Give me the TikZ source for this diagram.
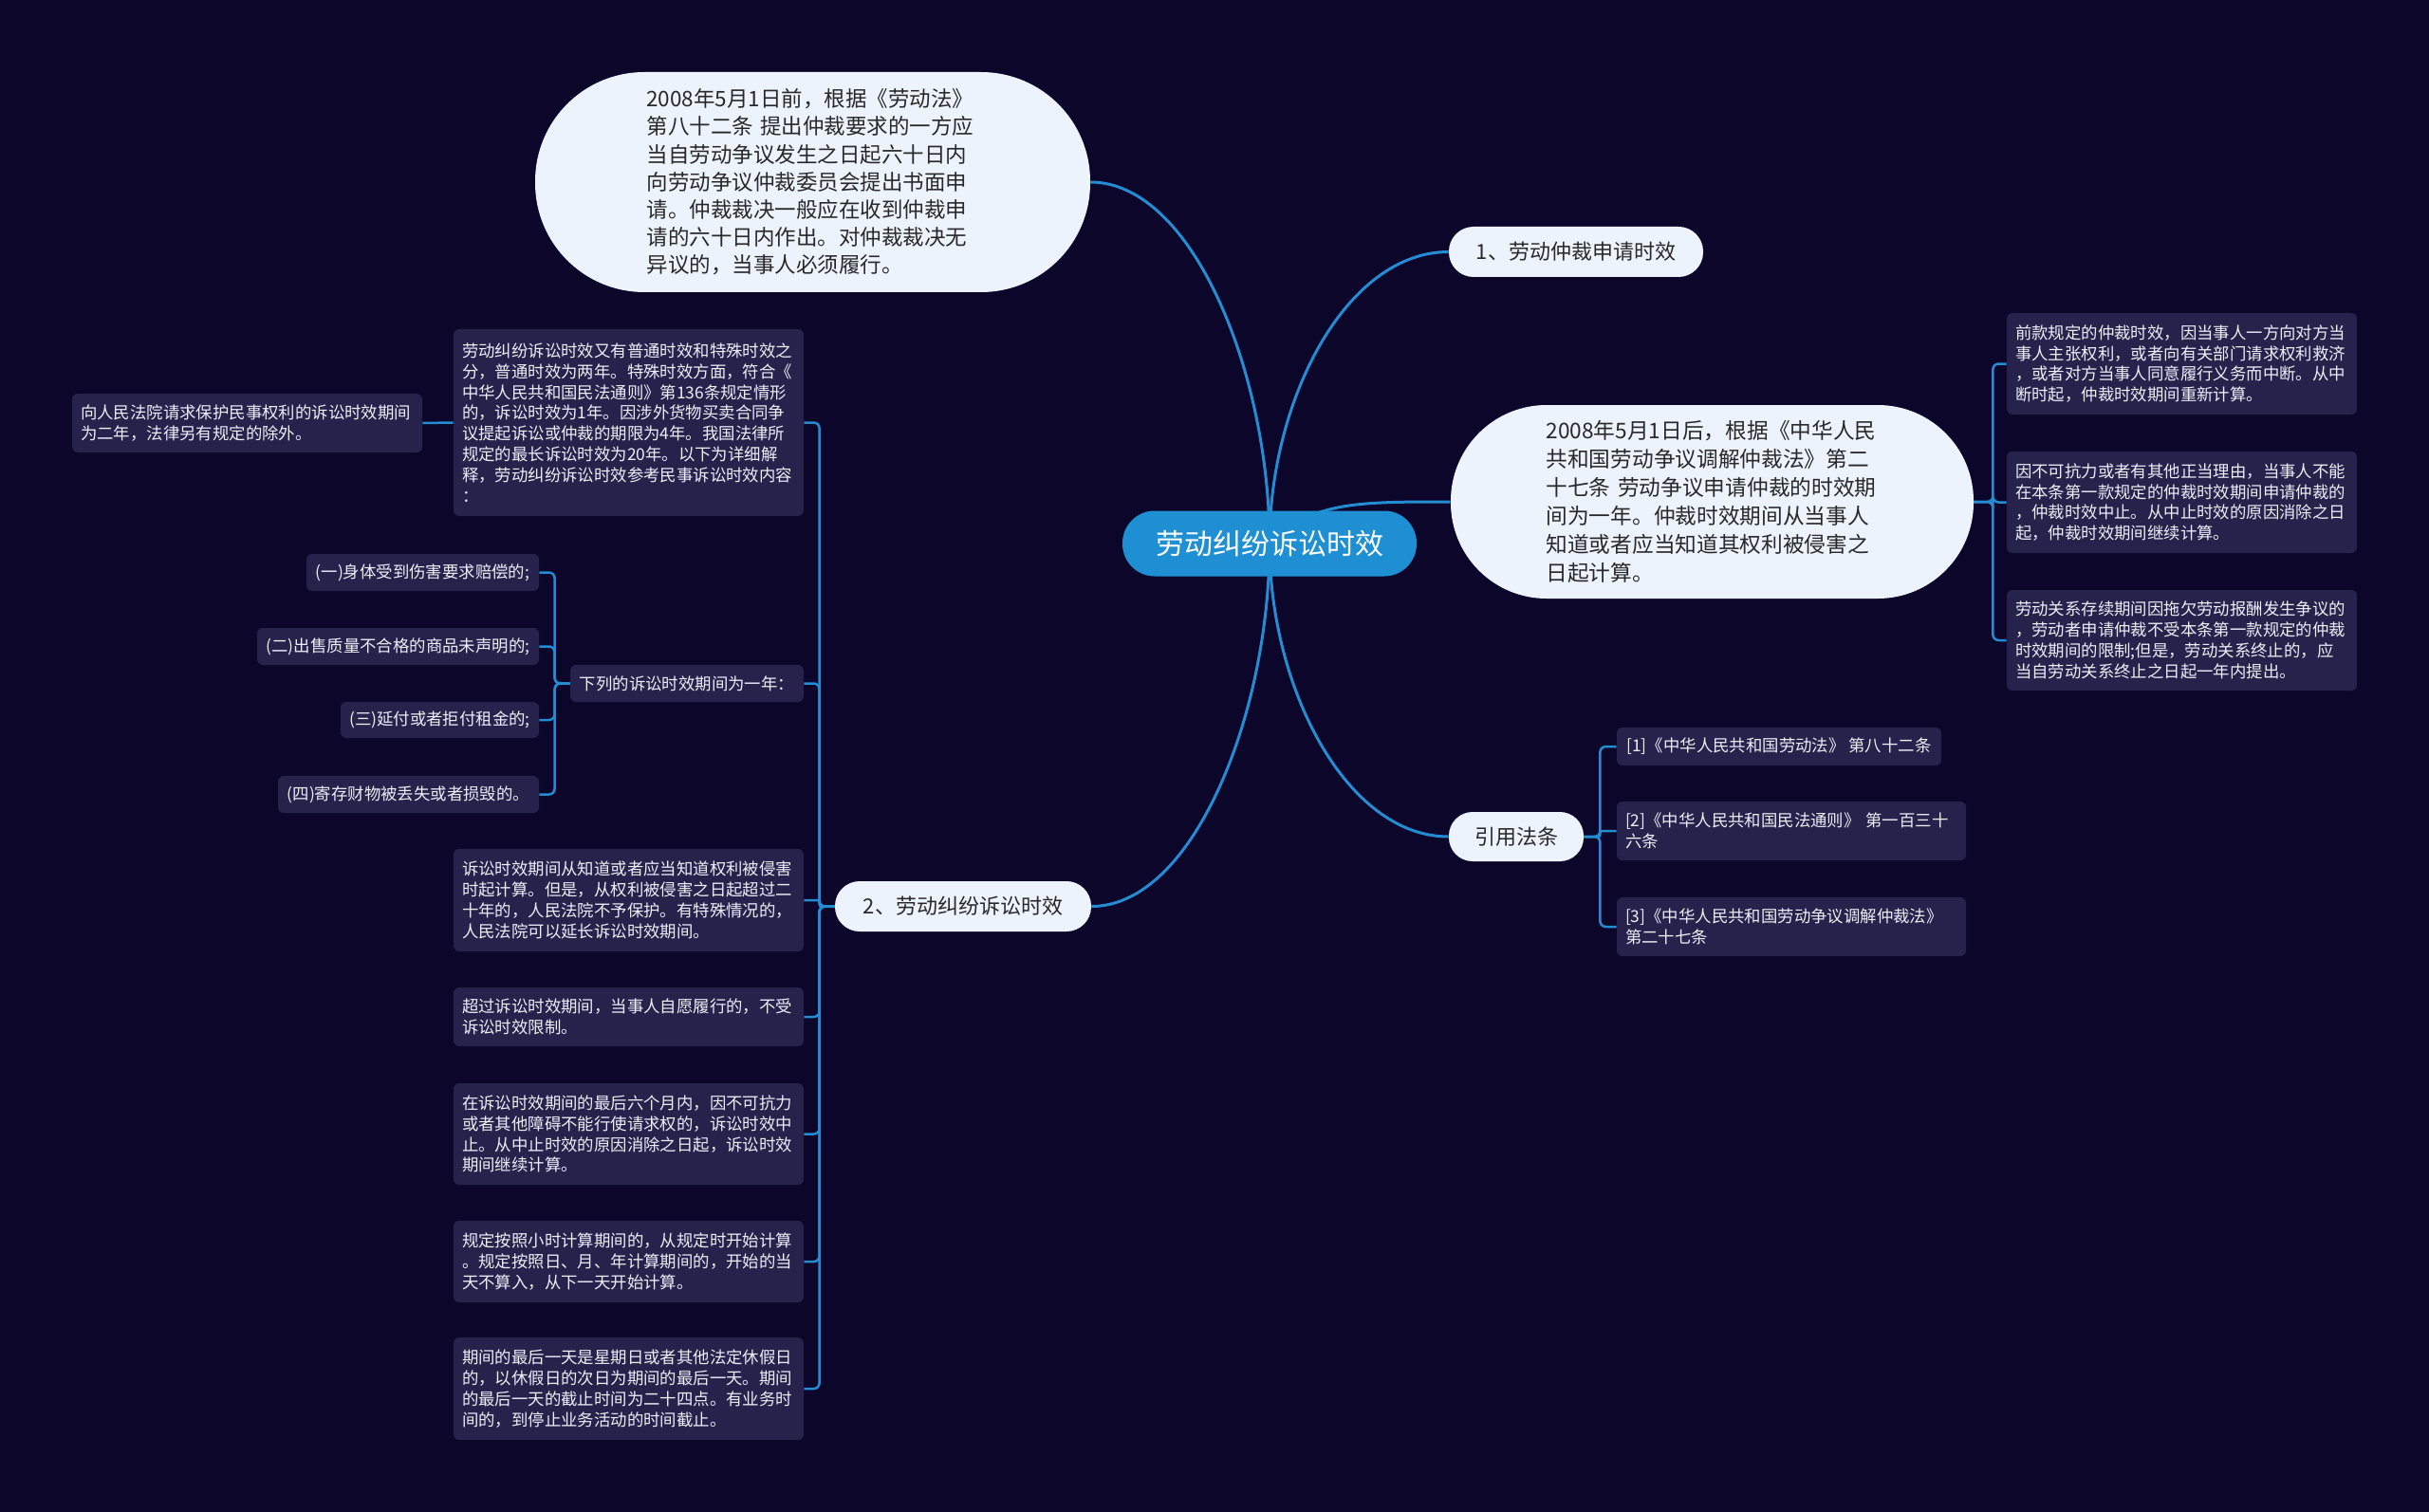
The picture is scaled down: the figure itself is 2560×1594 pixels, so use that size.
\documentclass[tikz,border=0pt]{standalone}
\usepackage{fontspec}
\setmainfont{Noto Sans CJK SC}
\definecolor{bgc}{RGB}{11,6,42}
\definecolor{leafc}{RGB}{38,34,76}
\definecolor{pillc}{RGB}{237,243,252}
\definecolor{rootc}{RGB}{30,143,210}
\definecolor{linec}{RGB}{36,140,210}
\definecolor{darktext}{RGB}{40,40,40}
\definecolor{leaftext}{RGB}{238,238,248}
\pgfdeclarelayer{bg}
\pgfsetlayers{bg,main}
\begin{document}
\begin{tikzpicture}[x=0.5pt,y=-0.5pt,
  rootn/.style={fill=rootc,text=white,font=\fontsize{15pt}{18pt}\selectfont,inner sep=0pt},
  pill/.style={fill=pillc,text=darktext,font=\fontsize{11pt}{14pt}\selectfont,inner sep=0pt},
  bubble/.style={fill=pillc,text=darktext,inner sep=0pt,align=left,text width=175pt},
  leaf/.style={fill=leafc,text=leaftext,rounded corners=3pt,font=\fontsize{8.7pt}{10.9pt}\selectfont,align=left,inner xsep=4.5pt,inner ysep=0pt},
  leafw/.style={leaf,text width=175.5pt},
  mainc/.style={draw=linec,line width=1.5pt},
  subc/.style={draw=linec,line width=1.25pt,rounded corners=3pt}]

% ---------- nodes ----------
\node[rootn,minimum width=155pt,minimum height=34.5pt,rounded corners=17pt] (root) at (1338,573) {劳动纠纷诉讼时效};

\node[bubble,minimum width=292.5pt,minimum height=116pt,rounded corners=57.5pt,font=\fontsize{11.25pt}{14.6pt}\selectfont] (b0) at (856.5,192) {2008年5月1日前，根据《劳动法》\\第八十二条 提出仲裁要求的一方应\\当自劳动争议发生之日起六十日内\\向劳动争议仲裁委员会提出书面申\\请。仲裁裁决一般应在收到仲裁申\\请的六十日内作出。对仲裁裁决无\\异议的，当事人必须履行。};

\node[pill,minimum width=134pt,minimum height=26.5pt,rounded corners=13pt] (b1) at (1661,265.5) {1、劳动仲裁申请时效};

\node[bubble,minimum width=275.5pt,minimum height=102pt,rounded corners=50.5pt,font=\fontsize{11.35pt}{15pt}\selectfont] (b3) at (1804.5,529) {2008年5月1日后，根据《中华人民\\共和国劳动争议调解仲裁法》第二\\十七条 劳动争议申请仲裁的时效期\\间为一年。仲裁时效期间从当事人\\知道或者应当知道其权利被侵害之\\日起计算。};

\node[leafw,minimum height=53.5pt] (R1) at (2299.5,383.5) {前款规定的仲裁时效，因当事人一方向对方当\\事人主张权利，或者向有关部门请求权利救济\\，或者对方当事人同意履行义务而中断。从中\\断时起，仲裁时效期间重新计算。};
\node[leafw,minimum height=53.5pt] (R2) at (2299.5,529.5) {因不可抗力或者有其他正当理由，当事人不能\\在本条第一款规定的仲裁时效期间申请仲裁的\\，仲裁时效中止。从中止时效的原因消除之日\\起，仲裁时效期间继续计算。};
\node[leafw,minimum height=53pt] (R3) at (2299.5,675) {劳动关系存续期间因拖欠劳动报酬发生争议的\\，劳动者申请仲裁不受本条第一款规定的仲裁\\时效期间的限制;但是，劳动关系终止的，应\\当自劳动关系终止之日起一年内提出。};

\node[pill,minimum width=71pt,minimum height=26pt,rounded corners=12.5pt] (cite) at (1598,882) {引用法条};
\node[leaf,minimum width=171pt,minimum height=20pt] (C1) at (1875,787) {[1]《中华人民共和国劳动法》 第八十二条};
\node[leaf,text width=175pt,minimum height=31pt] (C2) at (1888,876) {[2]《中华人民共和国民法通则》 第一百三十\\六条};
\node[leaf,text width=175pt,minimum height=31pt] (C3) at (1888,977) {[3]《中华人民共和国劳动争议调解仲裁法》\\第二十七条};

\node[pill,minimum width=135pt,minimum height=26.5pt,rounded corners=13pt] (b2) at (1015,955.5) {2、劳动纠纷诉讼时效};

\node[leafw,minimum height=98.5pt] (L1) at (662.5,445.5) {劳动纠纷诉讼时效又有普通时效和特殊时效之\\分，普通时效为两年。特殊时效方面，符合《\\中华人民共和国民法通则》第136条规定情形\\的，诉讼时效为1年。因涉外货物买卖合同争\\议提起诉讼或仲裁的期限为4年。我国法律所\\规定的最长诉讼时效为20年。以下为详细解\\释，劳动纠纷诉讼时效参考民事诉讼时效内容\\：};
\node[leafw,minimum height=31pt] (L1a) at (260.5,446) {向人民法院请求保护民事权利的诉讼时效期间\\为二年，法律另有规定的除外。};

\node[leaf,minimum width=123pt,minimum height=19.5pt] (L2) at (724,720.5) {下列的诉讼时效期间为一年：};
\node[leaf,minimum width=122.5pt,minimum height=19.5pt] (S1) at (445.5,603.5) {(一)身体受到伤害要求赔偿的;};
\node[leaf,minimum width=148.5pt,minimum height=19.5pt] (S2) at (419.5,681.5) {(二)出售质量不合格的商品未声明的;};
\node[leaf,minimum width=104.5pt,minimum height=19pt] (S3) at (463.5,759) {(三)延付或者拒付租金的;};
\node[leaf,minimum width=137.5pt,minimum height=19.5pt] (S4) at (430.5,837.5) {(四)寄存财物被丢失或者损毁的。};

\node[leafw,minimum height=54pt] (L3) at (662.5,949) {诉讼时效期间从知道或者应当知道权利被侵害\\时起计算。但是，从权利被侵害之日起超过二\\十年的，人民法院不予保护。有特殊情况的，\\人民法院可以延长诉讼时效期间。};
\node[leafw,minimum height=31pt] (L4) at (662.5,1072) {超过诉讼时效期间，当事人自愿履行的，不受\\诉讼时效限制。};
\node[leafw,minimum height=53.5pt] (L5) at (662.5,1195.5) {在诉讼时效期间的最后六个月内，因不可抗力\\或者其他障碍不能行使请求权的，诉讼时效中\\止。从中止时效的原因消除之日起，诉讼时效\\期间继续计算。};
\node[leafw,minimum height=43pt] (L6) at (662.5,1330) {规定按照小时计算期间的，从规定时开始计算\\。规定按照日、月、年计算期间的，开始的当\\天不算入，从下一天开始计算。};
\node[leafw,minimum height=54pt] (L7) at (662.5,1464) {期间的最后一天是星期日或者其他法定休假日\\的，以休假日的次日为期间的最后一天。期间\\的最后一天的截止时间为二十四点。有业务时\\间的，到停止业务活动的时间截止。};

% ---------- background and connectors ----------
\begin{pgfonlayer}{bg}
\fill[bgc] (0,0) rectangle (2560,1594);
\draw[mainc] (root.center) .. controls +(0,-180) and +(107,0) .. (b0.east);
\draw[mainc] (root.center) .. controls +(0,-153) and +(-107,0) .. (b1.west);
\draw[mainc] (root.center) .. controls +(45,-44) and +(-100,0) .. (b3.west);
\draw[mainc] (root.center) .. controls +(0,153) and +(-107,0) .. (cite.west);
\draw[mainc] (root.center) .. controls +(0,180) and +(107,0) .. (b2.east);

\draw[subc] (b3.east) -- ++(20,0) |- (R1.west);
\draw[subc] (b3.east) -- ++(20,0) |- (R2.west);
\draw[subc] (b3.east) -- ++(20,0) |- (R3.west);

\draw[subc] (cite.east) -- ++(17,0) |- (C1.west);
\draw[subc,rounded corners=1pt] (cite.east) -- ++(17,0) |- (C2.west);
\draw[subc] (cite.east) -- ++(17,0) |- (C3.west);

\draw[subc] (b2.west) -- ++(-16,0) |- (L1.east);
\draw[subc] (b2.west) -- ++(-16,0) |- (L2.east);
\draw[subc,rounded corners=1pt] (b2.west) -- ++(-16,0) |- (L3.east);
\draw[subc] (b2.west) -- ++(-16,0) |- (L4.east);
\draw[subc] (b2.west) -- ++(-16,0) |- (L5.east);
\draw[subc] (b2.west) -- ++(-16,0) |- (L6.east);
\draw[subc] (b2.west) -- ++(-16,0) |- (L7.east);

\draw[subc] (L1.west) -- (L1a.east);

\draw[subc] (L2.west) -- ++(-16,0) |- (S1.east);
\draw[subc] (L2.west) -- ++(-16,0) |- (S2.east);
\draw[subc] (L2.west) -- ++(-16,0) |- (S3.east);
\draw[subc] (L2.west) -- ++(-16,0) |- (S4.east);
\end{pgfonlayer}
\end{tikzpicture}
\end{document}
